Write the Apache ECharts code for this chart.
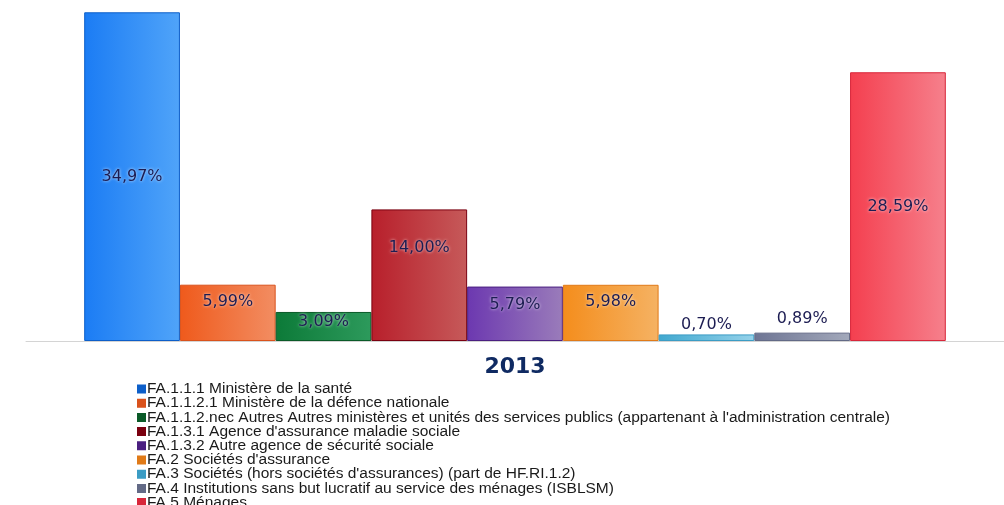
<!DOCTYPE html>
<html>
<head>
<meta charset="utf-8">
<script src="https://cdn.jsdelivr.net/npm/echarts@6/dist/echarts.min.js"></script>
<style>
  html, body { margin: 0; padding: 0; background: #fff; }
  #main { width: 1004px; height: 505px; }
</style>
</head>
<body>
<div id="main"></div>
<script>
// data
const years = ["2013"];
const seriesNames = [
    "FA.1.1.1 Ministère de la santé",
    "FA.1.1.2.1 Ministère de la défence nationale",
    "FA.1.1.2.nec Autres Autres ministères et unités des services publics (appartenant à l'administration centrale)",
    "FA.1.3.1 Agence d'assurance maladie sociale",
    "FA.1.3.2 Autre agence de sécurité sociale",
    "FA.2 Sociétés d'assurance",
    "FA.3 Sociétés (hors sociétés d'assurances) (part de HF.RI.1.2)",
    "FA.4 Institutions sans but lucratif au service des ménages (ISBLSM)",
    "FA.5 Ménages"
];
const shares = [34.97, 5.99, 3.09, 14.00, 5.79, 5.98, 0.70, 0.89, 28.59];

// colours: [left of gradient, right of gradient, border / legend]
const colors = [
    ["#1b7cf4", "#50a4f9", "#0d5fc9"],
    ["#ef5a1c", "#f28d62", "#d9521c"],
    ["#0c7a38", "#2d9a5c", "#0a5a28"],
    ["#b81f2b", "#c65a5a", "#7a0010"],
    ["#6c38b0", "#9a7cba", "#4a1f80"],
    ["#f48d1c", "#f5b263", "#e07a18"],
    ["#40a8cf", "#95d2ea", "#3b9cc4"],
    ["#6e7594", "#a3a9bb", "#636a86"],
    ["#f43f4f", "#f6808c", "#d8263a"]
];

// label placement per bar (inside top distance / top)
const labelPos = [
    {position: "inside"},
    {position: "insideTop", distance: 9},
    {position: "insideTop", distance: 2},
    {position: "insideTop", distance: 30},
    {position: "insideTop", distance: 10},
    {position: "insideTop", distance: 9},
    {position: "top", distance: 2},
    {position: "top", distance: 6},
    {position: "inside"}
];

function fmt(v){
    return v.toFixed(2).replace(".", ",") + "%";
}

let series = seriesNames.map((name, i) => {
    return {
        name: name,
        type: "bar",
        barGap: "0%",
        barCategoryGap: "11.9%",
        data: [shares[i]],
        itemStyle: {
            color: new echarts.graphic.LinearGradient(0, 0, 1, 0, [
                {offset: 0, color: colors[i][0]},
                {offset: 1, color: colors[i][1]}
            ]),
            borderColor: colors[i][2],
            borderWidth: 1
        },
        label: Object.assign({
            show: true,
            formatter: (p) => fmt(p.value),
            color: "#1c1c52",
            fontFamily: "DejaVu Sans",
            fontSize: 16,
            textShadowColor: "rgba(255,255,255,0.8)",
            textShadowBlur: 3
        }, labelPos[i])
    };
});

let myChart = echarts.init(document.getElementById("main"));
let option = {
    animation: false,
    grid: {left: 26, right: 0, top: 12, bottom: 164},
    legend: {
        orient: "vertical",
        left: 132,
        top: 376,
        height: 300,
        itemWidth: 7,
        itemHeight: 7,
        itemGap: -1.8,
        icon: "rect",
        textStyle: {
            fontFamily: "Liberation Sans",
            fontSize: 15.5,
            color: "#1a1a1a",
            padding: [0, 0, 0, -3]
        },
        data: seriesNames.map((n, i) => ({name: n, itemStyle: {color: colors[i][2]}}))
    },
    xAxis: {
        type: "category",
        data: years,
        axisLine: {lineStyle: {color: "#d4d4d4", width: 1}},
        axisTick: {show: false},
        axisLabel: {
            margin: 15,
            color: "#0f2a62",
            fontFamily: "DejaVu Sans",
            fontWeight: "bold",
            fontSize: 22
        }
    },
    yAxis: {
        type: "value",
        min: 0,
        max: 35,
        show: false,
        splitLine: {show: false}
    },
    series: series
};
myChart.setOption(option);
</script>
</body>
</html>
